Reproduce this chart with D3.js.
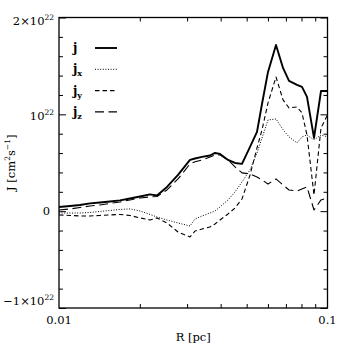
<!DOCTYPE html>
<html>
<head>
<meta charset="utf-8">
<script src="https://cdn.jsdelivr.net/npm/d3@7"></script>
<style>
  body { margin: 0; background: #fff; }
  svg { display: block; }
  text { font-family: "DejaVu Serif", "Liberation Serif", serif; fill: #000; }
</style>
</head>
<body>
<script>
// radius grid (pc) shared by all series
var radius = [0.01, 0.01099, 0.01197, 0.01305, 0.01421, 0.01549, 0.01687, 0.01838, 0.02003, 0.02183,
  0.02317, 0.02525, 0.02775, 0.03075, 0.03211, 0.03408, 0.03651, 0.03811, 0.03978, 0.04261,
  0.04524, 0.04803, 0.05146, 0.05463, 0.05702, 0.06004, 0.06430, 0.06829, 0.07189, 0.07700,
  0.08035, 0.08387, 0.08907, 0.09458, 0.1];

// values in units of 1e22 cm^2 s^-1
var jTot = [0.043, 0.054, 0.064, 0.080, 0.090, 0.100, 0.111, 0.131, 0.152, 0.173,
  0.162, 0.250, 0.374, 0.529, 0.544, 0.560, 0.575, 0.601, 0.591, 0.529,
  0.498, 0.488, 0.663, 0.818, 1.107, 1.438, 1.717, 1.479, 1.345, 1.304,
  1.283, 1.180, 0.756, 1.241, 1.241];
var jX = [-0.019, -0.019, -0.019, -0.013, -0.003, 0.007, 0.018, 0.023, 0.002, -0.034,
  -0.060, -0.091, -0.122, -0.153, -0.081, -0.050, -0.019, 0.002, 0.043, 0.116,
  0.198, 0.302, 0.426, 0.601, 0.756, 0.942, 0.952, 0.842, 0.767, 0.705,
  0.767, 0.787, 0.736, 0.787, 0.767];
var jY = [-0.039, -0.044, -0.050, -0.050, -0.044, -0.039, -0.034, -0.044, -0.070, -0.091,
  -0.070, -0.122, -0.215, -0.267, -0.205, -0.184, -0.163, -0.132, -0.091, -0.029,
  0.033, 0.126, 0.374, 0.653, 0.839, 1.118, 1.386, 1.149, 1.066, 1.076,
  1.014, 0.787, 0.167, 0.860, 0.994];
var jZ = [0.012, 0.023, 0.038, 0.054, 0.064, 0.080, 0.095, 0.116, 0.136, 0.147,
  0.152, 0.219, 0.333, 0.488, 0.510, 0.529, 0.560, 0.581, 0.581, 0.529,
  0.457, 0.395, 0.384, 0.353, 0.322, 0.281, 0.333, 0.271, 0.219, 0.209,
  0.229, 0.250, 0.012, 0.116, 0.136];

var seriesNames = ["j", "x", "y", "z"];
var xMinor = [0.02, 0.03, 0.04, 0.05, 0.06, 0.07, 0.08, 0.09];
var yMajor = [-1, 0, 1, 2];
var yMinor = [-0.8, -0.6, -0.4, -0.2, 0.2, 0.4, 0.6, 0.8, 1.2, 1.4, 1.6, 1.8];

var width = 346, height = 346;
var margin = {top: 17.5, right: 18.5, bottom: 38, left: 59};
var w = width - margin.left - margin.right,
  h = height - margin.top - margin.bottom;

var svg = d3.select("body").append("svg")
  .attr("width", width)
  .attr("height", height);

var g = svg.append("g")
  .attr("transform", "translate(" + margin.left + "," + margin.top + ")");

var x = d3.scaleLog().domain([0.01, 0.1]).range([0, w]);
var y = d3.scaleLinear().domain([-1, 2]).range([h, 0]);

//ticks on all four sides, pointing inward
function ticks(axisFn, scale, vals, len, tr) {
  g.append("g")
    .attr("transform", tr)
    .call(axisFn(scale).tickValues(vals).tickSize(len).tickFormat(""))
    .call(function(s) {
      s.select(".domain").remove();
      s.selectAll("line").attr("stroke", "#000").attr("stroke-width", 1);
    });
}
ticks(d3.axisTop, x, xMinor, 4, "translate(0," + h + ")");
ticks(d3.axisBottom, x, xMinor, 4, "translate(0,0)");
ticks(d3.axisRight, y, yMinor, 4, "translate(0,0)");
ticks(d3.axisRight, y, yMajor, 7, "translate(0,0)");
ticks(d3.axisLeft, y, yMinor, 4, "translate(" + w + ",0)");
ticks(d3.axisLeft, y, yMajor, 7, "translate(" + w + ",0)");

//frame
g.append("rect")
  .attr("width", w).attr("height", h)
  .attr("fill", "none").attr("stroke", "#000").attr("stroke-width", 1.3);

//series
var styles = {
  j: {data: jTot, width: 1.9, dash: null},
  x: {data: jX, width: 1, dash: "1,1.6"},
  y: {data: jY, width: 1.1, dash: "4.5,3"},
  z: {data: jZ, width: 1.1, dash: "9,4.5"}
};

var line = d3.line()
  .x(function(d) { return x(d[0]); })
  .y(function(d) { return y(d[1]); });

seriesNames.forEach(function(k) {
  var st = styles[k];
  g.append("path")
    .datum(d3.zip(radius, st.data))
    .attr("fill", "none")
    .attr("stroke", "#000")
    .attr("stroke-width", st.width)
    .attr("stroke-dasharray", st.dash)
    .attr("stroke-linejoin", "round")
    .attr("d", line);
});

//legend
var leg = svg.append("g");
seriesNames.forEach(function(k, i) {
  var st = styles[k];
  var ly = 48 + i * 21.3;
  var t = leg.append("text")
    .attr("x", 73).attr("y", ly + 4)
    .attr("font-size", 12).attr("font-weight", "bold")
    .text("j");
  if (k !== "j") {
    t.append("tspan").attr("dy", 3).attr("font-size", 8).text(k);
  }
  leg.append("line")
    .attr("x1", 95).attr("x2", 117)
    .attr("y1", ly).attr("y2", ly)
    .attr("stroke", "#000")
    .attr("stroke-width", st.width)
    .attr("stroke-dasharray", st.dash);
});

//y tick labels
function powLabel(xp, yp, pre) {
  var t = svg.append("text")
    .attr("x", xp).attr("y", yp)
    .attr("text-anchor", "end")
    .attr("font-size", 11.5);
  t.append("tspan").text(pre);
  t.append("tspan").attr("dy", -5).attr("font-size", 7.5).text("22");
}
powLabel(54, 25, "2×10");
powLabel(54, 119.5, "10");
powLabel(54, 305, "−1×10");
svg.append("text")
  .attr("x", 50).attr("y", margin.top + y(0) + 4)
  .attr("text-anchor", "end").attr("font-size", 11.5)
  .text("0");

//x tick labels
svg.append("text")
  .attr("x", margin.left + x(0.01)).attr("y", 324)
  .attr("text-anchor", "middle").attr("font-size", 11.5)
  .text("0.01");
svg.append("text")
  .attr("x", margin.left + x(0.1)).attr("y", 324)
  .attr("text-anchor", "middle").attr("font-size", 11.5)
  .text("0.1");

//axis titles
svg.append("text")
  .attr("x", margin.left + w / 2).attr("y", 341)
  .attr("text-anchor", "middle").attr("font-size", 11.5)
  .text("R [pc]");

var yt = svg.append("text")
  .attr("transform", "translate(15," + (margin.top + h / 2) + ") rotate(-90)")
  .attr("text-anchor", "middle").attr("font-size", 11.5);
yt.append("tspan").text("J [cm");
yt.append("tspan").attr("dy", -5).attr("font-size", 7.5).text("2");
yt.append("tspan").attr("dy", 5).text("s");
yt.append("tspan").attr("dy", -5).attr("font-size", 7.5).text("−1");
yt.append("tspan").attr("dy", 5).text("]");
</script>
</body>
</html>
